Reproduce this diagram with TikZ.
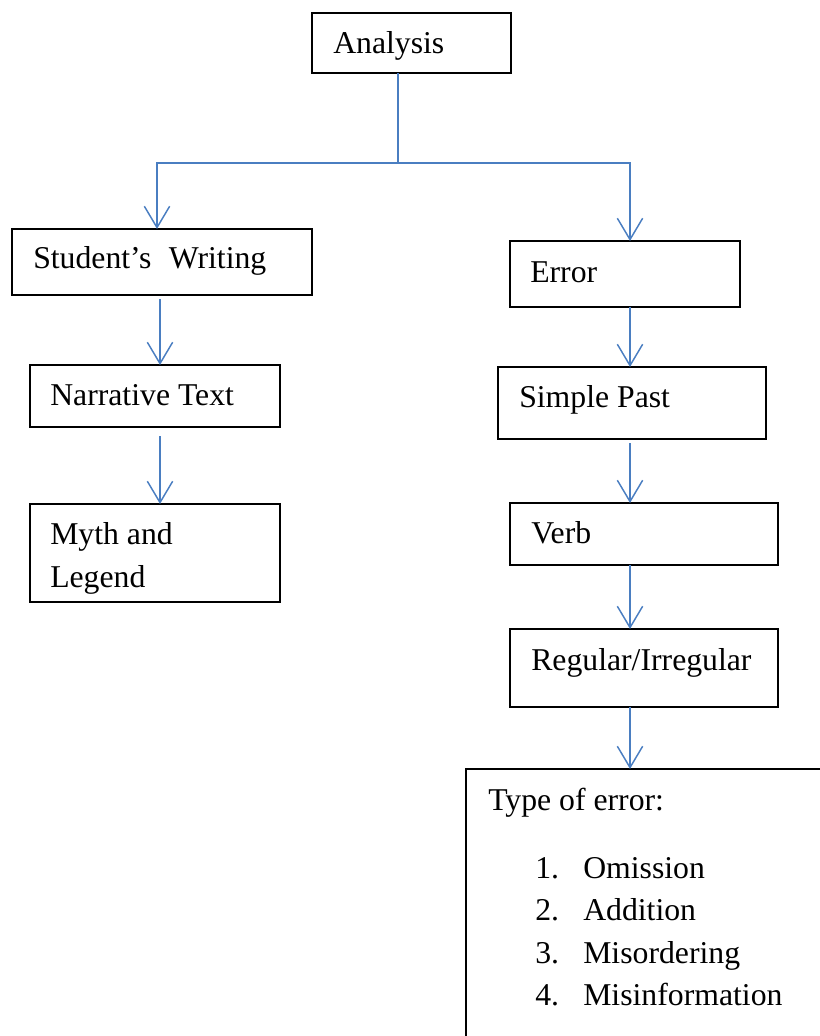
\documentclass[tikz,border=0pt]{standalone}
\usepackage{fontspec}
\setmainfont{Liberation Serif}
\usetikzlibrary{arrows.meta}
\definecolor{linkblue}{RGB}{74,126,193}
\begin{document}
\begin{tikzpicture}[x=0.75pt,y=-0.75pt,
  box/.style={draw=black,line width=1pt,rectangle,inner sep=0pt,outer sep=0pt},
  txt/.style={anchor=base west,inner sep=0pt,font=\fontsize{23.8pt}{31.5pt}\selectfont},
  conn/.style={draw=linkblue,line width=1.1pt},
  arr/.style={conn,-{Straight Barb[length=16pt,width=19pt,line width=1.1pt]}}]
\useasboundingbox (0,0) rectangle (819,1036);
% boxes
\node[box,minimum width=149.25pt,minimum height=45pt] (ana) at (411.5,43) {};
\node[box,minimum width=225pt,minimum height=49.5pt] (stud) at (162,262) {};
\node[box,minimum width=187.5pt,minimum height=46.5pt] (narr) at (155,396) {};
\node[box,minimum width=187.5pt,minimum height=73.5pt] (myth) at (155,553) {};
\node[box,minimum width=172.5pt,minimum height=49.5pt] (err) at (625,274) {};
\node[box,minimum width=201pt,minimum height=54pt] (simp) at (632,403) {};
\node[box,minimum width=201pt,minimum height=46.5pt] (verb) at (644,534) {};
\node[box,minimum width=201pt,minimum height=58.5pt] (reg) at (644,668) {};
\node[box,minimum width=280.5pt,minimum height=210.75pt] (type) at (653,909.5) {};
% texts
\node[txt] (tana) at (333,53) {Analysis};
\node[txt] (tstud) at (33,268) {Student’s\hspace{0.55em}Writing};
\node[txt] (tnarr) at (50,405) {Narrative Text};
\node[txt] (tmyth1) at (50,544) {Myth and};
\node[txt] (tmyth2) at (50,587) {Legend};
\node[txt] (terr) at (530,282) {Error};
\node[txt] (tsimp) at (519,407) {Simple Past};
\node[txt] (tverb) at (531,543) {Verb};
\node[txt] (treg) at (531,670) {Regular/Irregular};
\node[txt] (ttype) at (488,810) {Type of error:};
\node[txt] (n1) at (535,878) {1.};
\node[txt] (i1) at (583,878) {Omission};
\node[txt] (n2) at (535,920) {2.};
\node[txt] (i2) at (583,920) {Addition};
\node[txt] (n3) at (535,963) {3.};
\node[txt] (i3) at (583,963) {Misordering};
\node[txt] (n4) at (535,1005) {4.};
\node[txt] (i4) at (583,1005) {Misinformation};
% connector coordinates
\coordinate (split) at (398,163);
\coordinate (lx) at (157,0);
\coordinate (lx2) at (160,0);
\coordinate (rx) at (630,0);
% connectors
\draw[conn] (ana.south -| split) -- (split);
\draw[arr] (split) -- (split -| lx) -- (stud.north -| lx);
\draw[arr] (split) -- (split -| rx) -- (err.north -| rx);
\draw[arr] ([yshift=-3pt]stud.south -| lx2) -- (narr.north -| lx2);
\draw[arr] ([yshift=-7pt]narr.south -| lx2) -- (myth.north -| lx2);
\draw[arr] (err.south -| rx) -- (simp.north -| rx);
\draw[arr] ([yshift=-3pt]simp.south -| rx) -- (verb.north -| rx);
\draw[arr] (verb.south -| rx) -- (reg.north -| rx);
\draw[arr] (reg.south -| rx) -- (type.north -| rx);
\end{tikzpicture}
\end{document}
